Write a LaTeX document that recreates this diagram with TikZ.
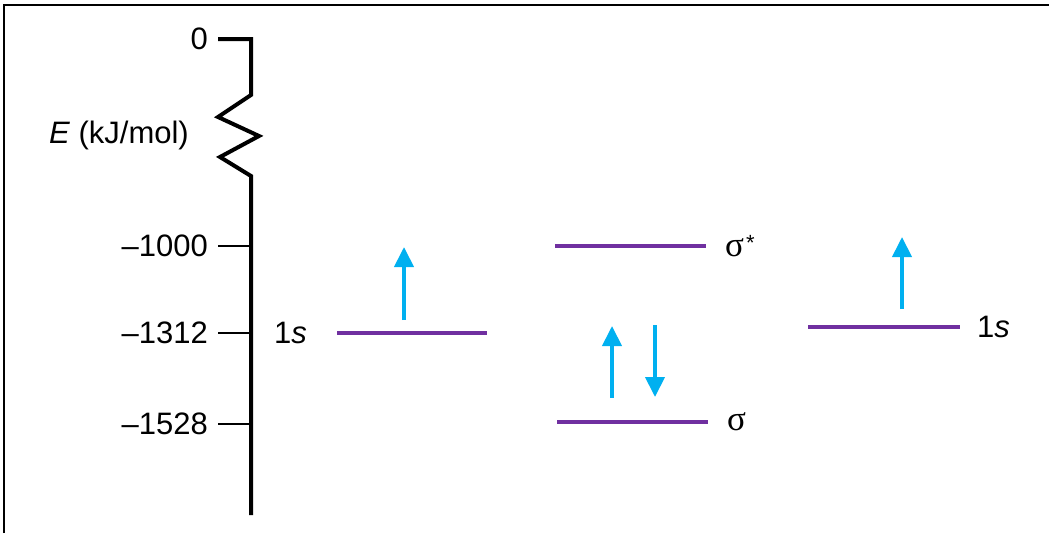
\documentclass[tikz,border=0pt]{standalone}
\usepackage{fontspec}
\setmainfont{Liberation Sans}
\newfontfamily\greekfont{Liberation Serif}
\usetikzlibrary{arrows.meta}
\definecolor{orbital}{HTML}{7030A0}
\definecolor{spin}{HTML}{00B0F0}
\definecolor{ink}{HTML}{000000}
\tikzset{
  frame/.style={draw=ink, line width=2pt},
  axis/.style={draw=ink, line width=4pt, line join=miter},
  tickmark/.style={draw=ink, line width=2pt},
  level/.style={draw=orbital, line width=4pt},
  electron/.style={draw=spin, line width=4pt, -{Triangle[length=20pt,width=19pt]}},
  energy/.style={font=\fontsize{31}{36}\selectfont, inner sep=0pt, anchor=east},
  orblabel/.style={font=\fontsize{31}{36}\selectfont, inner sep=0pt, anchor=west}
}
\newcommand{\sigmasym}{{\greekfont\fontsize{35}{38}\selectfont σ}}

\begin{document}
\begin{tikzpicture}[x=1pt,y=-1pt]
  \useasboundingbox (0,0) rectangle (1049,533);
  \draw[frame] (4,533) -- (4,5) -- (1049,5);

  % energy axis with break
  \coordinate (top) at (218,39);
  \coordinate (bottom) at (251,515);
  \draw[axis] (top) -- (251,39) -- (251,95) -- (218,117) -- (259,136)
    -- (220,157) -- (251,176) -- (bottom);
  \node[energy] (zero) at (208,39) {0};
  \node[energy] (elabel) at (189,135) {\textit{E} (kJ/mol)};

  \foreach \val/\y in {1000/246,1312/333,1528/424} {
    \coordinate (tick\val) at (218,\y);
    \coordinate (axis\val) at (251,\y);
    \draw[tickmark] (tick\val) -- (axis\val);
    \node[energy] (lab\val) at (208,\y) {\textendash\val};
  }

  % orbitals
  \coordinate (hA1) at (337,333);  \coordinate (hA2) at (487,333);
  \coordinate (sst1) at (555,246); \coordinate (sst2) at (706,246);
  \coordinate (sg1) at (557,422);  \coordinate (sg2) at (708,422);
  \coordinate (hB1) at (808,327);  \coordinate (hB2) at (960,327);
  \draw[level] (hA1) -- (hA2);
  \draw[level] (sst1) -- (sst2);
  \draw[level] (sg1) -- (sg2);
  \draw[level] (hB1) -- (hB2);

  \node[orblabel] (hAlabel) at (274,333) {1\textit{s}};
  \node[orblabel] (sstlabel) at (725,246) {\sigmasym\hspace{2pt}\raisebox{6pt}{\fontsize{22}{24}\selectfont *}};
  \node[orblabel] (sglabel) at (727,422) {\sigmasym};
  \node[orblabel] (hBlabel) at (977,327) {1\textit{s}};

  % electrons
  \coordinate (eA1) at (404,320);  \coordinate (eA2) at (404,247);
  \coordinate (eU1) at (612,398);  \coordinate (eU2) at (612,326);
  \coordinate (eD1) at (655,325);  \coordinate (eD2) at (655,397);
  \coordinate (eB1) at (902,309);  \coordinate (eB2) at (902,237);
  \draw[electron] (eA1) -- (eA2);
  \draw[electron] (eU1) -- (eU2);
  \draw[electron] (eD1) -- (eD2);
  \draw[electron] (eB1) -- (eB2);
\end{tikzpicture}
\end{document}
